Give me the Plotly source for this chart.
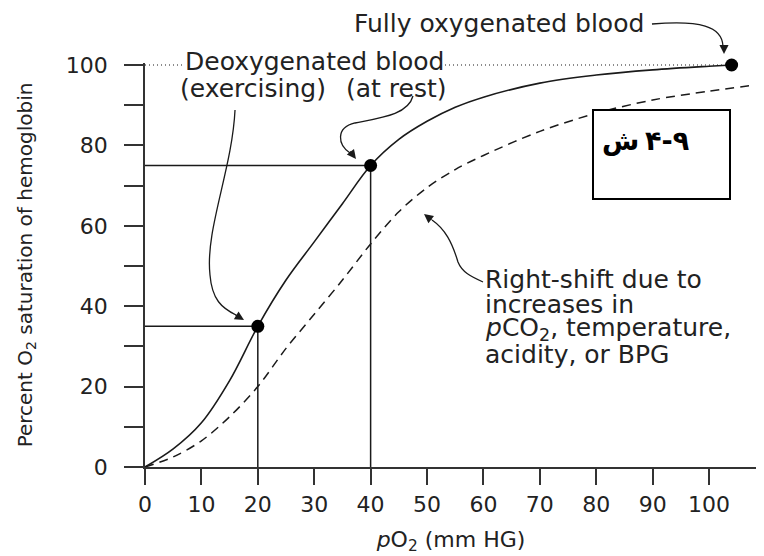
import plotly.graph_objects as go

# dissociation curves (pO2 in mm Hg, % saturation)
po2_rest = [0, 5, 10, 15, 20, 25, 30, 35, 40, 45, 50, 55, 60, 70, 80, 90, 100, 104]
sat_rest = [0, 4.5, 11, 21.5, 35, 46.5, 56, 65.5, 75, 81.5, 86, 89.5, 92, 95.5, 97.5, 98.8, 99.7, 100]

po2_shift = [0, 5, 10, 15, 20, 25, 30, 35, 40, 45, 50, 55, 60, 70, 80, 90, 100, 108]
sat_shift = [0, 2.5, 6.5, 12.5, 20, 29.5, 38, 46.5, 55.5, 63.5, 69.5, 74, 77.5, 83.5, 88, 91.3, 93.5, 95]

# marked points: exercising, at rest, fully oxygenated
point_po2 = [20, 40, 104]
point_sat = [35, 75, 100]

x_ticks = list(range(0, 101, 10))
y_ticks = list(range(0, 101, 20))

# plot area as it shows on screen (the page body adds an 8px offset)
OFF = 8
L, T, W, H = 145, 63, 612, 404


def pp(px, py):
    return f"{(px - L) / W:.4f},{(T + H - py) / H:.4f}"


def px_x(px):
    return (px - L) / W


def px_y(py):
    return (T + H - py) / H


ink = "#1a1a1a"
txt = "#222222"
font_txt = dict(family="DejaVu Sans", size=25, color=txt)

fig = go.Figure()

# dotted line at full saturation
fig.add_trace(go.Scatter(
    x=[0, point_po2[2]], y=[point_sat[2], point_sat[2]], mode="lines",
    line=dict(color=ink, width=1.2, dash="1px,3px"), hoverinfo="skip",
))

# guide lines down and across from the two deoxygenated points
for px, py in zip(point_po2[:2], point_sat[:2]):
    fig.add_trace(go.Scatter(
        x=[0, px, px], y=[py, py, 0], mode="lines",
        line=dict(color=ink, width=1.5), hoverinfo="skip",
    ))

fig.add_trace(go.Scatter(
    x=po2_shift, y=sat_shift, mode="lines", line=dict(
        color=ink, width=1.5, dash="9px,6px", shape="spline", smoothing=0.9),
    hoverinfo="skip",
))
fig.add_trace(go.Scatter(
    x=po2_rest, y=sat_rest, mode="lines", line=dict(
        color=ink, width=1.6, shape="spline", smoothing=1.0),
    hoverinfo="skip",
))
fig.add_trace(go.Scatter(
    x=point_po2, y=point_sat, mode="markers", cliponaxis=False,
    marker=dict(color="black", size=13), hoverinfo="skip",
))

# curved arrow shafts
arrow_paths = [
    f"M {pp(652, 24)} C {pp(700, 20)} {pp(722, 26)} {pp(723, 46)}",
    f"M {pp(235, 110)} C {pp(232, 170)} {pp(205, 230)} {pp(210, 275)} C {pp(212, 300)} {pp(222, 308)} {pp(236, 315)}",
    f"M {pp(413, 96)} C {pp(408, 115)} {pp(380, 118)} {pp(355, 123)} C {pp(335, 128)} {pp(338, 145)} {pp(350, 153)}",
    f"M {pp(483, 282)} C {pp(470, 276)} {pp(462, 272)} {pp(458, 262)} C {pp(452, 242)} {pp(445, 229)} {pp(432, 220)}",
]
shapes = [
    dict(type="path", xref="paper", yref="paper", path=p,
         line=dict(color=ink, width=1.3))
    for p in arrow_paths
]
shapes.append(dict(
    type="rect", xref="paper", yref="paper",
    x0=px_x(593), x1=px_x(730), y0=px_y(199), y1=px_y(110),
    line=dict(color="black", width=2), fillcolor="white",
))

# arrowheads: (tip x, tip y, tail dx, tail dy) in pixels
heads = [(724, 54, 0, -10), (244, 320, -10, -6), (356, 159, -7, -9), (424, 214, 9, 7)]
annotations = [
    dict(x=px_x(hx), y=px_y(hy), xref="paper", yref="paper", text="",
         showarrow=True, ax=dx, ay=dy, arrowhead=2, arrowsize=1.4,
         arrowwidth=1.3, arrowcolor=ink, standoff=0)
    for hx, hy, dx, dy in heads
]

labels = [
    ("Fully oxygenated blood", 645, 24, "right", None),
    ("Deoxygenated blood", 184, 61, "left", "white"),
    ("(exercising)", 179, 89, "left", None),
    ("(at rest)", 345, 89, "left", None),
    ("Right-shift due to", 484, 279, "left", None),
    ("increases in", 484, 304, "left", None),
    ("<i>p</i>CO<sub>2</sub>, temperature,", 484, 329, "left", None),
    ("acidity, or BPG", 484, 354, "left", None),
]
for text, lx, ly, anchor, bg in labels:
    annotations.append(dict(
        x=px_x(lx), y=px_y(ly), xref="paper", yref="paper", text=text,
        showarrow=False, xanchor=anchor, yanchor="middle", font=font_txt,
        bgcolor=bg, borderpad=0,
    ))

# figure label inside the box, written as two pieces to keep the visual order
box_font = dict(family="DejaVu Sans", size=27, color="black")
annotations.append(dict(
    x=px_x(641), y=px_y(123), xref="paper", yref="paper", text="<b>ش</b>",
    showarrow=False, xanchor="right", font=box_font,
))
annotations.append(dict(
    x=px_x(643), y=px_y(123), xref="paper", yref="paper", text="<b>۴-۹</b>",
    showarrow=False, xanchor="left", font=box_font,
))

axis_style = dict(
    showline=True, linecolor="#333", linewidth=1.5, ticks="outside",
    tickcolor="#333", tickwidth=1.5, showgrid=False, zeroline=False,
    tickfont=dict(family="DejaVu Sans", size=22, color=txt),
)

fig.update_layout(
    width=764, height=556,
    margin=dict(l=L - OFF, r=764 - (L - OFF) - W, t=T - OFF, b=556 - (T - OFF) - H),
    paper_bgcolor="white", plot_bgcolor="white",
    showlegend=False,
    xaxis=dict(
        range=[0, 108.5], tickvals=x_ticks, ticklen=16, ticklabelstandoff=1,
        title=dict(text="<i>p</i>O<sub>2</sub> (mm HG)", standoff=15,
                   font=dict(family="DejaVu Sans", size=22, color=txt)),
        **axis_style,
    ),
    yaxis=dict(
        range=[0, 100.5], tickvals=y_ticks, ticklen=19, ticklabelstandoff=12,
        minor=dict(dtick=10, ticks="outside", ticklen=19, tickcolor="#333",
                   tickwidth=1.5),
        title=dict(text="Percent O<sub>2</sub> saturation of hemoglobin", standoff=28,
                   font=dict(family="DejaVu Sans", size=20, color=txt)),
        **axis_style,
    ),
    shapes=shapes,
    annotations=annotations,
)

fig.write_html("out.html")
